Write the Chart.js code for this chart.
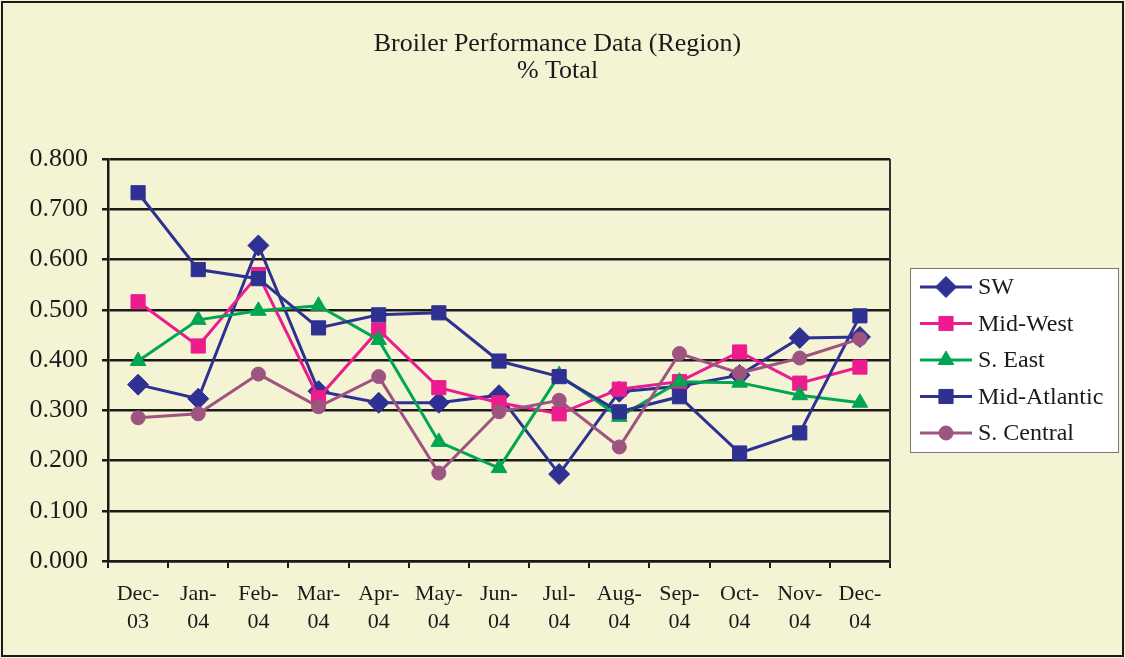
<!DOCTYPE html>
<html><head><meta charset="utf-8">
<script src="https://cdn.jsdelivr.net/npm/chart.js@4/dist/chart.umd.min.js"></script>
<style>html,body{margin:0;padding:0;background:#F4F3D4;} canvas{display:block}</style>
</head><body>
<canvas id="c" width="1125" height="658"></canvas>
<script>
const categories = [['Dec-','03'],['Jan-','04'],['Feb-','04'],['Mar-','04'],['Apr-','04'],['May-','04'],['Jun-','04'],['Jul-','04'],['Aug-','04'],['Sep-','04'],['Oct-','04'],['Nov-','04'],['Dec-','04']];
const seriesNames = ['SW','Mid-West','S. East','Mid-Atlantic','S. Central'];
const swValues = [0.351,0.323,0.628,0.338,0.315,0.315,0.330,0.173,0.337,0.348,0.370,0.444,0.446];
const midWestValues = [0.516,0.428,0.570,0.325,0.460,0.345,0.315,0.293,0.342,0.357,0.416,0.354,0.386];
const sEastValues = [0.398,0.480,0.498,0.508,0.440,0.237,0.185,0.370,0.287,0.357,0.355,0.330,0.315];
const midAtlanticValues = [0.733,0.580,0.562,0.464,0.490,0.494,0.398,0.367,0.297,0.327,0.215,0.255,0.488];
const sCentralValues = [0.285,0.293,0.372,0.307,0.367,0.175,0.297,0.320,0.227,0.413,0.374,0.404,0.442];
const titleLines = ['Broiler Performance Data (Region)','% Total'];
const yTicks = {min:0, max:0.8, step:0.1};

const FONT = "'Liberation Serif', 'Times New Roman', serif";
const INK = '#1a1a1a';
const BG = '#F4F3D4';
const styles = [
  {color:'#2E3192', pointStyle:'rectRot', radius:10.5},
  {color:'#EC1C8E', pointStyle:'rect', radius:10},
  {color:'#00A651', pointStyle:'triangle', radius:9},
  {color:'#2E3192', pointStyle:'rect', radius:10},
  {color:'#9E5480', pointStyle:'circle', radius:7}
];
const allValues = [swValues, midWestValues, sEastValues, midAtlanticValues, sCentralValues];

const datasets = allValues.map((vals,i)=>({
  label: seriesNames[i],
  data: vals,
  yAxisID: 'y',
  borderColor: styles[i].color,
  backgroundColor: styles[i].color,
  pointBackgroundColor: styles[i].color,
  pointBorderColor: styles[i].color,
  pointStyle: styles[i].pointStyle,
  pointRadius: styles[i].radius,
  pointHoverRadius: styles[i].radius,
  pointBorderWidth: 1,
  borderWidth: 3,
  tension: 0,
  order: allValues.length - i
}));

const framePlugin = {
  id: 'frame',
  beforeDraw(chart){
    const ctx = chart.ctx;
    ctx.save();
    ctx.fillStyle = BG;
    ctx.fillRect(0,0,chart.width,chart.height);
    ctx.strokeStyle = INK;
    ctx.lineWidth = 2;
    ctx.strokeRect(2,2,chart.width-4,chart.height-4);
    ctx.restore();
  },
  afterDraw(chart){
    const ctx = chart.ctx;
    const a = chart.chartArea;
    ctx.save();
    ctx.strokeStyle = '#333';
    ctx.lineWidth = 2;
    ctx.beginPath();
    ctx.moveTo(a.right, a.top); ctx.lineTo(a.right, a.bottom);
    ctx.stroke();
    // legend
    const lx = a.right + 20, ly = 268, lw = 208, lh = 184;
    ctx.fillStyle = '#FFFFFF';
    ctx.fillRect(lx, ly, lw, lh);
    ctx.strokeStyle = '#777';
    ctx.lineWidth = 1;
    ctx.strokeRect(lx+0.5, ly+0.5, lw, lh);
    chart.data.datasets.forEach((ds,i)=>{
      const cy = ly + 19 + i*36.5;
      ctx.strokeStyle = ds.borderColor;
      ctx.lineWidth = 3;
      ctx.beginPath(); ctx.moveTo(lx+10, cy); ctx.lineTo(lx+62, cy); ctx.stroke();
      ctx.fillStyle = ds.pointBackgroundColor;
      ctx.strokeStyle = ds.pointBorderColor;
      ctx.lineWidth = 1;
      Chart.helpers.drawPoint(ctx, {pointStyle: ds.pointStyle, radius: ds.pointRadius, rotation:0, borderWidth:1}, lx+36, cy);
      ctx.fillStyle = INK;
      ctx.font = "24px " + FONT;
      ctx.textBaseline = 'middle';
      ctx.textAlign = 'left';
      ctx.fillText(ds.label, lx+68, cy+1);
    });
    ctx.restore();
  }
};

new Chart(document.getElementById('c'), {
  type: 'line',
  data: { labels: categories, datasets },
  options: {
    responsive: false,
    animation: false,
    layout: { padding: { left: 0, right: 10, top: 0, bottom: 0 } },
    plugins: {
      legend: { display: false },
      tooltip: { enabled: false },
      title: {
        display: true,
        text: titleLines,
        color: INK,
        font: { family: FONT, size: 26, weight: 'normal', lineHeight: 1.04 },
        padding: { top: 31, bottom: 74 }
      }
    },
    scales: {
      x: {
        offset: true,
        afterFit(scale){ scale.height = 97; },
        grid: { drawOnChartArea: false, offset: true, tickLength: 7, color: INK, lineWidth: 2 },
        border: { color: INK, width: 2.5 },
        ticks: { color: INK, font: { family: FONT, size: 22, lineHeight: 1.27 }, padding: 12, maxRotation: 0, autoSkip: false }
      },
      y: {
        min: yTicks.min, max: yTicks.max,
        afterFit(scale){ scale.width = 108; },
        grid: { color: INK, lineWidth: 2.5, tickLength: 6 },
        border: { color: INK, width: 2.5 },
        ticks: { stepSize: yTicks.step, color: INK, padding: 14, font: { family: FONT, size: 26 },
          callback: v => Number(v).toFixed(3) }
      },
      yRight: {
        type: 'linear',
        position: 'right',
        display: true,
        afterFit(scale){ scale.width = 225; },
        grid: { display: false },
        border: { display: false },
        ticks: { display: false }
      }
    }
  },
  plugins: [framePlugin]
});
</script>
</body></html>
